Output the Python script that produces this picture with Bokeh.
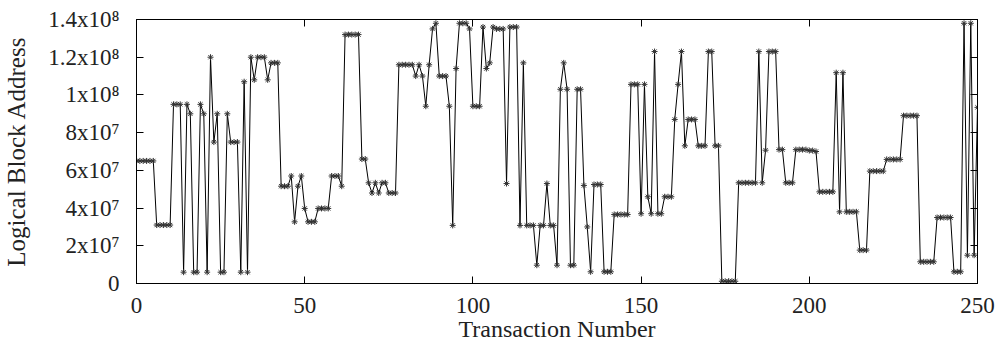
from bokeh.plotting import figure
from bokeh.models import Range1d, FixedTicker, LinearAxis, CustomLabelingPolicy
from bokeh.embed import file_html
from bokeh.resources import INLINE

# Logical block address touched by each transaction
transaction = list(range(251))
lba = [
    65e6, 65e6, 65e6, 65e6, 65e6, 65e6, 31e6, 31e6, 31e6, 31e6,
    31e6, 95e6, 95e6, 95e6, 6e6, 95e6, 90e6, 6e6, 6e6, 95e6,
    90e6, 6e6, 120e6, 75e6, 90e6, 6e6, 6e6, 90e6, 75e6, 75e6,
    75e6, 6e6, 107e6, 6e6, 120e6, 108e6, 120e6, 120e6, 120e6, 108e6,
    117e6, 117e6, 117e6, 51.6e6, 51.6e6, 51.6e6, 57e6, 32.7e6, 51.6e6, 57e6,
    39.8e6, 32.7e6, 32.7e6, 32.7e6, 39.8e6, 39.8e6, 39.8e6, 39.8e6, 57e6, 57e6,
    57e6, 51.6e6, 132e6, 132e6, 132e6, 132e6, 132e6, 66e6, 66e6, 53.4e6,
    48e6, 53.4e6, 48e6, 53.4e6, 53.4e6, 48e6, 48e6, 48e6, 116e6, 116e6,
    116e6, 116e6, 116e6, 110e6, 116e6, 110e6, 94e6, 116e6, 135e6, 138e6,
    110e6, 110e6, 110e6, 94e6, 30.8e6, 114e6, 138e6, 138e6, 138e6, 135e6,
    94e6, 94e6, 94e6, 136e6, 114e6, 117e6, 136e6, 135e6, 135e6, 135e6,
    53e6, 136e6, 136e6, 136e6, 30.8e6, 117e6, 30.8e6, 30.8e6, 30.8e6, 9.7e6,
    30.8e6, 30.8e6, 53e6, 30.8e6, 30.8e6, 9.7e6, 103e6, 117e6, 103e6, 9.7e6,
    9.7e6, 103e6, 103e6, 52e6, 30e6, 6.2e6, 52.5e6, 52.5e6, 52.5e6, 6.2e6,
    6.2e6, 6.2e6, 36.6e6, 36.6e6, 36.6e6, 36.6e6, 36.6e6, 105.6e6, 105.6e6, 105.6e6,
    37e6, 105.6e6, 46e6, 37e6, 123e6, 37e6, 37e6, 46e6, 46e6, 46e6,
    87e6, 105.6e6, 123e6, 73e6, 87e6, 87e6, 87e6, 73e6, 73e6, 73e6,
    123e6, 123e6, 73e6, 73e6, 1.2e6, 1.2e6, 1.2e6, 1.2e6, 1.2e6, 53.4e6,
    53.4e6, 53.4e6, 53.4e6, 53.4e6, 53.4e6, 123e6, 53.4e6, 70.7e6, 123e6, 123e6,
    123e6, 71e6, 71e6, 53.4e6, 53.4e6, 53.4e6, 71e6, 71e6, 71e6, 71e6,
    70.5e6, 70.5e6, 70e6, 48.6e6, 48.6e6, 48.6e6, 48.6e6, 48.6e6, 111.8e6, 38e6,
    111.8e6, 38e6, 38e6, 38e6, 38e6, 17.7e6, 17.7e6, 17.7e6, 59.6e6, 59.6e6,
    59.6e6, 59.6e6, 59.6e6, 65.8e6, 65.8e6, 65.8e6, 65.8e6, 65.8e6, 89e6, 89e6,
    89e6, 89e6, 89e6, 11.5e6, 11.5e6, 11.5e6, 11.5e6, 11.5e6, 35e6, 35e6,
    35e6, 35e6, 35e6, 6.2e6, 6.2e6, 6.2e6, 138e6, 15e6, 138e6, 15e6,
    93.4e6,
]

x_ticks = [0, 50, 100, 150, 200, 250]
y_ticks = [0, 20000000, 40000000, 60000000, 80000000, 100000000, 120000000, 140000000]
y_tick_labels = ["0", "2x10⁷", "4x10⁷", "6x10⁷", "8x10⁷", "1x10⁸", "1.2x10⁸", "1.4x10⁸"]

FONT = "Liberation Serif"
TEXT = "#222222"

p = figure(
    width=1008, height=348,
    output_backend="svg", toolbar_location=None,
    x_range=Range1d(0, 250), y_range=Range1d(0, 1.4e8),
    min_border_left=135, min_border_right=31,
    min_border_top=19, min_border_bottom=65,
    x_axis_label="Transaction Number", y_axis_label="Logical Block Address",
)
p.background_fill_color = "white"
p.border_fill_color = "white"
p.outline_line_color = "black"
p.outline_line_width = 1
p.xgrid.grid_line_color = None
p.ygrid.grid_line_color = None

p.xaxis.ticker = FixedTicker(ticks=x_ticks)
p.yaxis.ticker = FixedTicker(ticks=y_ticks)
p.yaxis.major_label_overrides = dict(zip(y_ticks, y_tick_labels))

for ax in (p.xaxis[0], p.yaxis[0]):
    ax.axis_line_color = "black"
    ax.major_tick_line_color = "black"
    ax.major_tick_in = 7
    ax.major_tick_out = 0
    ax.minor_tick_line_color = None
    ax.major_label_text_font = FONT
    ax.major_label_text_font_size = "23px"
    ax.major_label_text_color = TEXT
    ax.axis_label_text_font = FONT
    ax.axis_label_text_font_size = "24px"
    ax.axis_label_text_font_style = "normal"
    ax.axis_label_text_color = TEXT

p.yaxis.axis_label_text_font_size = "25px"
p.xaxis.major_label_standoff = 14
p.xaxis.axis_label_standoff = 0
p.yaxis.major_label_standoff = 17
p.yaxis.axis_label_standoff = 15

hide_all = """
    for (let i = 0; i < indices.size; i++) indices.unset(i)
    return indices
"""


def tick_only_axis(ticks):
    """Axis that draws inward ticks on the frame edge and no labels."""
    return LinearAxis(ticker=FixedTicker(ticks=ticks),
                      major_label_policy=CustomLabelingPolicy(code=hide_all),
                      major_label_text_font_size="1px", major_label_standoff=0,
                      major_tick_in=7, major_tick_out=0, minor_tick_line_color=None,
                      axis_line_color="black", major_tick_line_color="black")


# mirrored ticks on the top and right edges
p.add_layout(tick_only_axis(x_ticks), "above")
p.add_layout(tick_only_axis(y_ticks), "right")

p.line(transaction, lba, line_color="black", line_width=1)
p.scatter(transaction, lba, marker="asterisk", size=6, line_color="#333333", line_width=1)

open("out.html", "w").write(file_html(p, INLINE))
